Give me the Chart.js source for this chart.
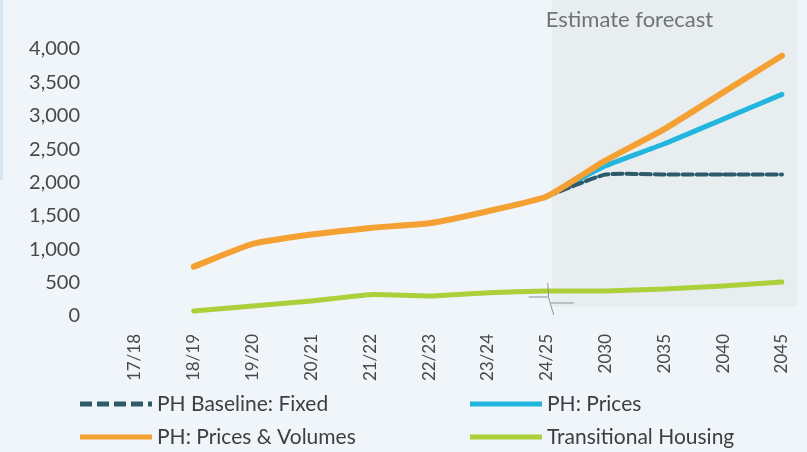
<!DOCTYPE html>
<html>
<head>
<meta charset="utf-8">
<script src="https://cdn.jsdelivr.net/npm/chart.js@4/dist/chart.umd.min.js"></script>
<style>
  html, body { margin: 0; padding: 0; background: #eff5f8; }
  #wrap { position: relative; width: 807px; height: 452px; }
  #edge { position: absolute; left: 0; top: 0; width: 3px; height: 180px; background: #d6e7f1; }
</style>
</head>
<body>
<div id="wrap">
  <div id="edge"></div>
  <canvas id="chart" width="807" height="452"></canvas>
</div>
<script>
const categories = ['17/18', '18/19', '19/20', '20/21', '21/22', '22/23', '23/24', '24/25', '2030', '2035', '2040', '2045'];
const baselineFixed = [null, null, null, null, null, null, null, 1790, 2120, 2120, 2120, 2120];
const prices = [null, null, null, null, null, null, null, 1790, 2250, 2580, 2950, 3320];
const pricesVolumes = [null, 740, 1080, 1220, 1320, 1390, 1570, 1790, 2330, 2800, 3350, 3900];
const transitional = [null, 75, 150, 225, 320, 300, 350, 375, 375, 405, 450, 510];
const seriesNames = ['PH Baseline: Fixed', 'PH: Prices', 'PH: Prices & Volumes', 'Transitional Housing'];
const yTicks = [0, 500, 1000, 1500, 2000, 2500, 3000, 3500, 4000];

const FONT = 'Lato, "Open Sans", sans-serif';

// grey band behind the forecast years, plus its caption
const forecastBand = {
  id: 'forecastBand',
  beforeDraw(chart) {
    const { ctx } = chart;
    const x = chart.scales.x;
    const y = chart.scales.y;
    const left = x.getPixelForValue(7) + 5;
    const right = x.getPixelForValue(11) + 15;
    ctx.save();
    ctx.fillStyle = '#e8edf0';
    ctx.fillRect(left, 0, right - left, y.getPixelForValue(0) - 9);
    ctx.fillStyle = '#6e7379';
    ctx.font = '22px ' + FONT;
    ctx.textBaseline = 'middle';
    ctx.fillText('Estimate forecast', left - 6, 20);
    ctx.restore();
  },
  afterDatasetsDraw(chart) {
    // axis break mark where annual years switch to five-year steps
    const { ctx } = chart;
    const x = chart.scales.x.getPixelForValue(7) + 1;
    const y = chart.scales.y.getPixelForValue(transitional[7]) + 1;
    ctx.save();
    ctx.strokeStyle = '#8d9297';
    ctx.lineWidth = 1;
    ctx.beginPath();
    ctx.moveTo(x - 19, y + 5);
    ctx.lineTo(x, y + 5);
    ctx.moveTo(x, y - 9);
    ctx.lineTo(x + 1, y + 6);
    ctx.lineTo(x + 6, y + 23);
    ctx.moveTo(x + 3, y + 11);
    ctx.lineTo(x + 26, y + 11);
    ctx.stroke();
    ctx.restore();
  },
  afterDraw(chart) {
    // two-column legend under the axis labels
    const { ctx } = chart;
    const spots = [[80, 404], [470, 404], [80, 437], [470, 437]];
    ctx.save();
    ctx.font = '21px ' + FONT;
    ctx.textBaseline = 'middle';
    chart.data.datasets.forEach((ds, i) => {
      const [lx, ly] = spots[i];
      ctx.strokeStyle = ds.borderColor;
      ctx.lineWidth = 5;
      ctx.setLineDash(ds.borderDash ? [12, 5] : []);
      ctx.beginPath();
      ctx.moveTo(lx, ly);
      ctx.lineTo(lx + 72, ly);
      ctx.stroke();
      ctx.setLineDash([]);
      ctx.fillStyle = '#3b3f43';
      ctx.fillText(ds.label, lx + 77, ly);
    });
    ctx.restore();
  }
};

new Chart(document.getElementById('chart'), {
  type: 'line',
  data: {
    labels: categories,
    datasets: [
      {
        label: seriesNames[0],
        data: baselineFixed,
        borderColor: '#2d5b6a',
        borderWidth: 4,
        borderDash: [10, 4],
        order: 1
      },
      {
        label: seriesNames[1],
        data: prices,
        borderColor: '#22b5de',
        borderWidth: 5,
        order: 1
      },
      {
        label: seriesNames[2],
        data: pricesVolumes,
        borderColor: '#f5a033',
        borderWidth: 6,
        order: 0
      },
      {
        label: seriesNames[3],
        data: transitional,
        borderColor: '#abd03a',
        borderWidth: 5,
        order: 1
      }
    ]
  },
  options: {
    responsive: false,
    animation: false,
    layout: { padding: { top: 49, right: 25, left: 0, bottom: 0 } },
    elements: {
      point: { radius: 0 },
      line: { tension: 0.15, borderCapStyle: 'round' }
    },
    scales: {
      x: {
        offset: false,
        grid: { display: false },
        border: { display: false },
        ticks: {
          minRotation: 90,
          maxRotation: 90,
          padding: 10,
          color: '#45494d',
          font: { family: FONT, size: 17 }
        },
        afterFit(scale) {
          scale.height = 136;
          scale.paddingLeft = 0;
          scale.paddingRight = 0;
        }
      },
      y: {
        min: 0,
        max: 4000,
        grid: { display: false },
        border: { display: false },
        afterBuildTicks(scale) { scale.ticks = yTicks.map(v => ({ value: v })); },
        ticks: {
          padding: 47,
          color: '#45494d',
          font: { family: FONT, size: 20 },
          callback: v => v.toLocaleString('en-US')
        },
        afterFit(scale) {
          scale.width = 135;
          scale.paddingTop = 0;
          scale.paddingBottom = 0;
        }
      }
    },
    plugins: {
      legend: { display: false },
      tooltip: { enabled: false }
    }
  },
  plugins: [forecastBand]
});
</script>
</body>
</html>
